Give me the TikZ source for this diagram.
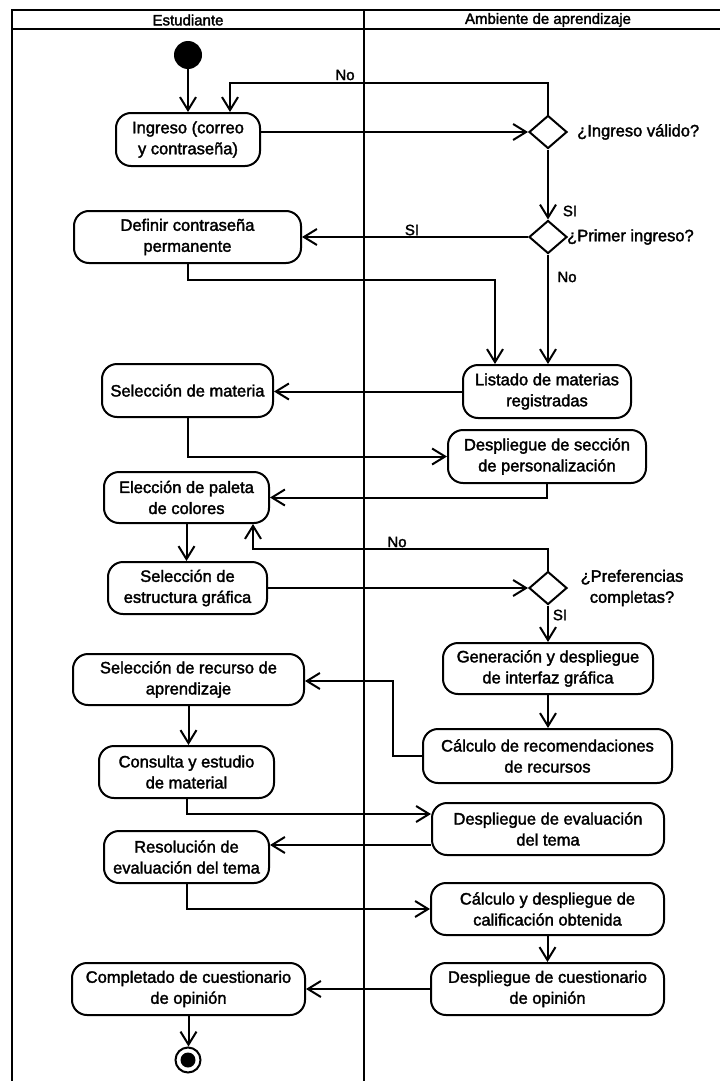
\documentclass[tikz,border=0pt]{standalone}
\usepackage{fontspec}
\setmainfont{Liberation Sans}[FakeBold=2]
\usetikzlibrary{arrows.meta,shapes.geometric}

\begin{document}
\begin{tikzpicture}[x=1pt,y=-1pt,
  every node/.style={inner sep=0pt},
  act/.style={draw, line width=2pt, rounded corners=15pt, align=center,
    font=\fontsize{16.5}{21}\selectfont},
  dec/.style={draw, diamond, line width=2pt, minimum width=38pt, minimum height=33pt},
  flow/.style={line width=2pt, -{Straight Barb[length=13pt,width=16pt,line width=2pt]}},
  lbl/.style={font=\fontsize{15}{18}\selectfont},
  ques/.style={font=\fontsize{16.5}{21}\selectfont},
  hdr/.style={font=\fontsize{15}{18}\selectfont},
  lane/.style={line width=2.2pt}]

\useasboundingbox (0,0) rectangle (720,1081);

% swimlanes
\draw[lane] (12,1081) -- (12,10) -- (720,10);
\draw[lane] (12,29) -- (720,29);
\draw[lane] (364,10) -- (364,1081);
\node[hdr] (h1) at (188,20) {Estudiante};
\node[hdr] (h2) at (548,20) {Ambiente de aprendizaje};

% start / end
\node[circle, fill=black, minimum size=28pt] (start) at (188,55) {};
\node[circle, draw, line width=2pt, minimum size=25pt] (final) at (188,1060) {};
\node[circle, fill=black, minimum size=15pt] (finaldot) at (final) {};

% student activities
\node[act, minimum width=144pt, minimum height=53pt] (ingreso) at (188,139.5) {Ingreso (correo\\y contraseña)};
\node[act, minimum width=227pt, minimum height=52pt] (definir) at (187.5,237) {Definir contraseña\\permanente};
\node[act, minimum width=171pt, minimum height=53pt] (selmat) at (187.5,390.5) {Selección de materia};
\node[act, minimum width=165pt, minimum height=51pt] (eleccion) at (186.5,497.5) {Elección de paleta\\de colores};
\node[act, minimum width=159pt, minimum height=52pt] (estructura) at (187.5,588) {Selección de\\estructura gráfica};
\node[act, minimum width=231pt, minimum height=51pt] (recurso) at (188.5,679.5) {Selección de recurso de\\aprendizaje};
\node[act, minimum width=175pt, minimum height=52pt] (consulta) at (186.5,772) {Consulta y estudio\\de material};
\node[act, minimum width=165pt, minimum height=52pt] (resolucion) at (186.5,857) {Resolución de\\evaluación del tema};
\node[act, minimum width=233pt, minimum height=52pt] (completado) at (188.5,989) {Completado de cuestionario\\de opinión};

% system activities
\node[act, minimum width=168pt, minimum height=53pt] (listado) at (547,391.5) {Listado de materias\\registradas};
\node[act, minimum width=198pt, minimum height=53pt] (despsec) at (547,456.5) {Despliegue de sección\\de personalización};
\node[act, minimum width=210pt, minimum height=51pt] (generacion) at (548,668.5) {Generación y despliegue\\de interfaz gráfica};
\node[act, minimum width=249pt, minimum height=54pt] (calcrec) at (547.5,756) {Cálculo de recomendaciones\\de recursos};
\node[act, minimum width=232pt, minimum height=52pt] (despeval) at (548,829) {Despliegue de evaluación\\del tema};
\node[act, minimum width=233pt, minimum height=52pt] (calcdesp) at (547.5,909) {Cálculo y despliegue de\\calificación obtenida};
\node[act, minimum width=233pt, minimum height=52pt] (despcuest) at (547.5,989) {Despliegue de cuestionario\\de opinión};

% decisions
\node[dec] (d1) at (548,132) {};
\node[dec] (d2) at (548,237) {};
\node[dec] (d3) at (548,588) {};
\node[ques, anchor=west] (q1) at (577,132) {¿Ingreso válido?};
\node[ques, anchor=west] (q2) at (567,237) {¿Primer ingreso?};
\node[ques, align=center] (q3) at (632,588) {¿Preferencias\\completas?};

% bend points
\coordinate (b1) at (230,83);
\coordinate (b2) at (495,280);
\coordinate (b3) at (253,549);
\coordinate (b4) at (393,681);

% flows
\draw[flow] (start) -- (ingreso.north);
\draw[flow] (d1.north) |- (b1) -- (b1 |- ingreso.north);
\draw[flow] (ingreso.east |- d1.west) -- (d1.west);
\draw[flow] (d1.south) -- (d2.north);
\draw[flow] (d2.west) -- (d2.west -| definir.east);
\draw[flow] (d2.south) -- (d2.south |- listado.north);
\draw[flow] (definir.south) |- (b2) -- (b2 |- listado.north);
\draw[flow] (listado.west) -- (listado.west -| selmat.east);
\draw[flow] (selmat.south) |- (despsec.west);
\draw[flow] (despsec.south) |- (eleccion.east);
\draw[flow] (eleccion.south) -- (eleccion.south |- estructura.north);
\draw[flow] (estructura.east) -- (d3.west);
\draw[flow] (d3.north) |- (b3) -- (b3 |- eleccion.south);
\draw[flow] (d3.south) -- (d3.south |- generacion.north);
\draw[flow] (generacion.south) -- (generacion.south |- calcrec.north);
\draw[flow] (calcrec.west) -| (b4) -- (b4 -| recurso.east);
\draw[flow] (recurso.south) -- (recurso.south |- consulta.north);
\draw[flow] (consulta.south) |- ([yshift=15pt]despeval.west);
\draw[flow] ([yshift=-16pt]despeval.west) -- ([yshift=-16pt]despeval.west -| resolucion.east);
\draw[flow] (resolucion.south) |- (calcdesp.west);
\draw[flow] (calcdesp.south) -- (calcdesp.south |- despcuest.north);
\draw[flow] (despcuest.west) -- (despcuest.west -| completado.east);
\draw[flow] (completado.south) -- (completado.south |- final.north);

% guard labels
\node[lbl] (l1) at (345,75) {No};
\node[lbl] (l2) at (570,211) {SI};
\node[lbl] (l3) at (412,230) {SI};
\node[lbl] (l4) at (567,277) {No};
\node[lbl] (l5) at (397,542) {No};
\node[lbl] (l6) at (560,615) {SI};
\end{tikzpicture}
\end{document}
